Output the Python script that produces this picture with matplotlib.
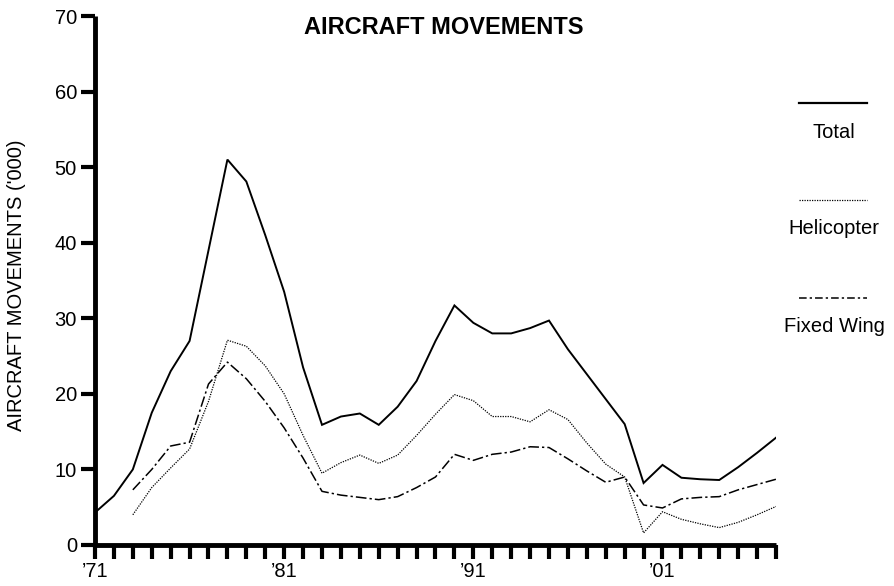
import matplotlib
matplotlib.use("Agg")
import matplotlib.pyplot as plt
from matplotlib.lines import Line2D

plt.rcParams['font.family'] = ['Liberation Sans', 'DejaVu Sans']

years = list(range(1971, 2008))
total = [4.3, 6.5, 10.0, 17.5, 23.0, 27.0, 39.0, 51.0, 48.1, 41.0, 33.5, 23.5,
         15.9, 17.0, 17.4, 15.9, 18.3, 21.7, 27.0, 31.7, 29.4, 28.0, 28.0, 28.7,
         29.7, 25.9, 22.6, 19.3, 16.0, 8.2, 10.6, 8.9, 8.7, 8.6, 10.3, 12.2, 14.2]
heli_years = list(range(1973, 2008))
helicopter = [4.0, 7.6, 10.2, 12.7, 19.0, 27.1, 26.3, 23.7, 20.0, 14.5, 9.5,
              10.9, 11.9, 10.8, 11.9, 14.5, 17.3, 19.9, 19.1, 17.0, 17.0, 16.3,
              17.9, 16.6, 13.5, 10.7, 9.0, 1.6, 4.4, 3.4, 2.8, 2.3, 3.0, 4.0, 5.1]
fixed_wing = [7.3, 10.0, 13.1, 13.6, 21.3, 24.2, 22.0, 19.0, 15.5, 11.5, 7.1,
              6.6, 6.3, 6.0, 6.4, 7.6, 9.0, 12.0, 11.2, 12.0, 12.3, 13.0, 12.9,
              11.4, 9.8, 8.3, 9.0, 5.3, 4.9, 6.1, 6.3, 6.4, 7.3, 8.0, 8.7]
tick_years = [1971, 1981, 1991, 2001]
tick_labels = ["\u201971", "\u201981", "\u201991", "\u201901"]
y_ticks = [0, 10, 20, 30, 40, 50, 60, 70]
series_names = ["Total", "Helicopter", "Fixed Wing"]

FS = 14.5
W, H = 895, 586
fig = plt.figure(figsize=(W / 100, H / 100), dpi=100)
ax = fig.add_axes([95 / W, 1 - 545 / H, (776 - 95) / W, (545 - 16) / H])

ax.plot(years, total, color='black', lw=1.4, solid_joinstyle='miter')
ax.plot(heli_years, helicopter, color='black', lw=0.9, linestyle=(0, (1, 1)))
ax.plot(heli_years, fixed_wing, color='black', lw=1.1, linestyle=(0, (7, 2, 1.5, 2)))

ax.set_xlim(1971, 2007)
ax.set_ylim(0, 70)
ax.set_xticks(years)
ax.set_xticklabels([tick_labels[tick_years.index(y)] if y in tick_years else '' for y in years])
ax.set_yticks(y_ticks)
ax.tick_params(axis='both', direction='out', length=10, width=3, labelsize=FS, pad=2)
ax.tick_params(axis='y', pad=3)
for s in ['top', 'right']:
    ax.spines[s].set_visible(False)
for s in ['left', 'bottom']:
    ax.spines[s].set_linewidth(3.5)
    ax.spines[s].set_capstyle('butt')

fig.text(17 / W, 1 - 285 / H, "AIRCRAFT MOVEMENTS ('000)", rotation=90,
         ha='center', va='center', fontsize=FS)
fig.text(444 / W, 1 - 27 / H, "AIRCRAFT MOVEMENTS", ha='center', va='center',
         fontsize=17, fontweight='bold')

# legend
leg_y_line = [103, 200, 298]
leg_y_text = [132, 229, 327]
styles = [dict(lw=1.6, linestyle='-'), dict(lw=0.9, linestyle=(0, (1, 1))),
          dict(lw=1.1, linestyle=(0, (5, 2, 1.5, 2)))]
for name, yl, yt, st in zip(series_names, leg_y_line, leg_y_text, styles):
    fig.add_artist(Line2D([799 / W, 867 / W], [1 - yl / H, 1 - yl / H],
                          transform=fig.transFigure, color='black', **st))
    fig.text(834 / W, 1 - yt / H, name, ha='center', va='center', fontsize=FS)

fig.savefig("out.png", dpi=100)
